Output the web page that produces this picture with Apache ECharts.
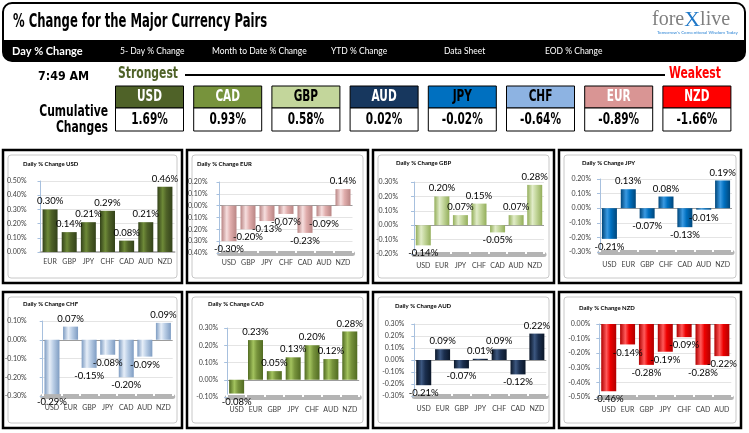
<!DOCTYPE html>
<html><head><meta charset="utf-8">
<script src="https://cdn.jsdelivr.net/npm/echarts@6/dist/echarts.min.js"></script>
<style>html,body{margin:0;padding:0;background:#fff;}#c{width:749px;height:433px;}</style>
</head><body><div id="c"></div>
<script>
// ---------- DATA ----------
const strengthOrder = ['USD','CAD','GBP','AUD','JPY','CHF','EUR','NZD'];
const cumulative = [1.69, 0.93, 0.58, 0.02, -0.02, -0.64, -0.89, -1.66];
const navItems = ['Day % Change','5- Day % Change','Month to Date % Change','YTD % Change','Data Sheet','EOD % Change'];
const timeStamp = '7:49 AM';

const usdCats = ['EUR','GBP','JPY','CHF','CAD','AUD','NZD'];
const usdVals = [0.30, 0.14, 0.21, 0.29, 0.08, 0.21, 0.46];
const usdRange = [0.00, 0.50];

const eurCats = ['USD','GBP','JPY','CHF','CAD','AUD','NZD'];
const eurVals = [-0.30, -0.20, -0.13, -0.07, -0.23, -0.09, 0.14];
const eurRange = [-0.40, 0.20];

const gbpCats = ['USD','EUR','JPY','CHF','CAD','AUD','NZD'];
const gbpVals = [-0.14, 0.20, 0.07, 0.15, -0.05, 0.07, 0.28];
const gbpRange = [-0.20, 0.30];

const jpyCats = ['USD','EUR','GBP','CHF','CAD','AUD','NZD'];
const jpyVals = [-0.21, 0.13, -0.07, 0.08, -0.13, -0.01, 0.19];
const jpyRange = [-0.30, 0.20];

const chfCats = ['USD','EUR','GBP','JPY','CAD','AUD','NZD'];
const chfVals = [-0.29, 0.07, -0.15, -0.08, -0.20, -0.09, 0.09];
const chfRange = [-0.30, 0.10];

const cadCats = ['USD','EUR','GBP','JPY','CHF','AUD','NZD'];
const cadVals = [-0.08, 0.23, 0.05, 0.13, 0.20, 0.12, 0.28];
const cadRange = [-0.10, 0.30];

const audCats = ['USD','EUR','GBP','JPY','CHF','CAD','NZD'];
const audVals = [-0.21, 0.09, -0.07, 0.01, 0.09, -0.12, 0.22];
const audRange = [-0.30, 0.30];

const nzdCats = ['USD','EUR','GBP','JPY','CHF','CAD','AUD'];
const nzdVals = [-0.46, -0.14, -0.28, -0.19, -0.09, -0.28, -0.22];
const nzdRange = [-0.50, 0.00];

// ---------- STYLE / LAYOUT ----------
const panels = [
  {name:'USD', cats:usdCats, vals:usdVals, range:usdRange},
  {name:'EUR', cats:eurCats, vals:eurVals, range:eurRange},
  {name:'GBP', cats:gbpCats, vals:gbpVals, range:gbpRange},
  {name:'JPY', cats:jpyCats, vals:jpyVals, range:jpyRange},
  {name:'CHF', cats:chfCats, vals:chfVals, range:chfRange},
  {name:'CAD', cats:cadCats, vals:cadVals, range:cadRange},
  {name:'AUD', cats:audCats, vals:audVals, range:audRange},
  {name:'NZD', cats:nzdCats, vals:nzdVals, range:nzdRange}
];
const frames = [[3,150,179,133],[187,150,181,133],[373,150,181,133],[559,150,182,133],
                [3,292,179,136],[187,292,181,136],[373,292,181,136],[559,292,182,136]];
const plots = [[40.5,181,134,71,14,6],[219.5,182,133,71,12,3],[414,182,130,72,16,5],[600,179,132,73,9,6],
               [42.7,321,130,75,16,5],[227.2,328,132,69,9,6],[414.3,324,132,72,10,6],[599.3,324,132,73,9,6]];
const titlePos = [[23,164],[197,164],[396,163],[582,163],[23,304],[208,304],[395,306],[579,308]];
const barColors = {
  USD:['#33421a','#6e8a38','#4f6228'],
  EUR:['#b98584','#f6dede','#e0adac'],
  GBP:['#93ae5a','#e1ecc8','#c3d69b'],
  JPY:['#00467a','#3a9ae2','#0070c0'],
  CHF:['#7e9cc2','#e6eef8','#b9cde5'],
  CAD:['#516b22','#a3c35e','#77933c'],
  AUD:['#0b1729','#3c5780','#1b2f4f'],
  NZD:['#b00000','#ff5a5a','#ee0000']
};
const boxStyle = {
  USD:['#4f6228','#fff'], CAD:['#77933c','#fff'], GBP:['#c3d69b','#000'], AUD:['#17375e','#fff'],
  JPY:['#0070c0','#000'], CHF:['#8db3e2','#000'], EUR:['#d99594','#fff'], NZD:['#ff0000','#fff']
};
const NARROW = '"DejaVu Sans Condensed","Liberation Sans Narrow",sans-serif';
const SANS = 'Lato,"Open Sans",sans-serif';

const chart = echarts.init(document.getElementById('c'), null, {renderer:'canvas'});

const grid = [], xAxis = [], yAxis = [], series = [];
const fmt = v => (Math.round(v*100)/100).toFixed(2) + '%';

panels.forEach((p, i) => {
  const pl = plots[i];
  const neg = p.range[0] < 0;
  grid.push({left:pl[0], top:pl[1], width:pl[2], height:pl[3], containLabel:false, outerBoundsMode:'none'});
  xAxis.push({
    type:'category', gridIndex:i, data:p.cats, position:'bottom',
    axisLine:{onZero:false, lineStyle:{color:'#b4b4b4', width:neg ? 5 : 2}},
    axisTick:{show:neg, inside:true, length:2.5, lineStyle:{color:'#ffffff', width:2}},
    axisLabel:{fontSize:7, color:'#404040', fontFamily:SANS, margin:pl[5] + (neg ? 3 : 0), interval:0}
  });
  const ticks = [];
  for (let t = Math.round(p.range[0]*10); t <= Math.round(p.range[1]*10); t++) ticks.push(t/10);
  yAxis.push({
    type:'value', gridIndex:i, min:p.range[0], max:p.range[1], interval:0.1,
    axisLine:{show:true, lineStyle:{color:'#a7c0de', width:1}},
    axisTick:{show:true, length:3, lineStyle:{color:'#a7c0de'}},
    axisLabel:{fontSize:7, color:'#404040', fontFamily:SANS, margin:pl[4], formatter:fmt},
    splitLine:{show:true, lineStyle:{color: ticks.map(t => Math.abs(t) < 1e-9 && neg ? '#9c9c9c' : '#e4e4e4'), width:1}}
  });
  const c = barColors[p.name];
  series.push({
    type:'bar', xAxisIndex:i, yAxisIndex:i, barWidth:15,
    data:p.vals.map(v => ({value:v, label:{position: v >= 0 ? 'top' : 'bottom'}})),
    itemStyle:{color:new echarts.graphic.LinearGradient(0,0,1,0,[
      {offset:0, color:c[0]},{offset:0.35, color:c[1]},{offset:0.6, color:c[2]},{offset:1, color:c[0]}])},
    label:{show:true, fontSize:9.5, fontFamily:SANS, color:'#000', distance:3, formatter:o => fmt(o.value)},
    animation:false
  });
});

// ---------- GRAPHICS ----------
const g = [];
const narrowText = (x, y, text, size, fill, align, sx) => ({
  type:'text', x:x, y:y, scaleX:sx, z:4,
  style:{text:text, font:'bold ' + size + 'px ' + NARROW, fill:fill, align:align || 'left', verticalAlign:'middle'}
});
g.push({type:'rect', shape:{x:3,y:3,width:742,height:58,r:9}, style:{fill:'#fff', stroke:'#000', lineWidth:2}, z:1});
g.push({type:'rect', shape:{x:3,y:40,width:742,height:21,r:[0,0,9,9]}, style:{fill:'#000'}, z:2});
g.push(narrowText(13, 22, '% Change for the Major Currency Pairs', 19, '#000', 'left', 0.68));
const navX = [12,120,212,331,444,545];
navItems.forEach((t, i) => {
  g.push({type:'text', x:navX[i], y:51, style:{text:t, font:(i === 0 ? 'bold 11px ' : '8.5px ') + SANS, fill:'#fff', verticalAlign:'middle'}, z:3});
});
g.push({type:'text', x:652, y:20, style:{text:'{a|fore}{b|X}{a|live}', verticalAlign:'middle',
  rich:{a:{fontFamily:'"Liberation Serif","DejaVu Serif",serif', fontSize:20, fill:'#7f7f7f'},
        b:{fontFamily:'"Liberation Serif","DejaVu Serif",serif', fontSize:22, fill:'#1f78c8'}}}, z:3});
g.push({type:'text', x:657, y:33, style:{text:"Tomorrow's Conventional Wisdom Today", font:'4.5px ' + SANS, fill:'#2f86d6', verticalAlign:'middle'}, z:3});

g.push(narrowText(38, 77, timeStamp, 13, '#000', 'left', 0.95));
g.push(narrowText(118, 74, 'Strongest', 15, '#4f6228', 'left', 0.8));
g.push({type:'line', shape:{x1:185,y1:75,x2:665,y2:75}, style:{stroke:'#000', lineWidth:2}, z:3});
g.push(narrowText(669, 74, 'Weakest', 15, '#ff0000', 'left', 0.8));
g.push(narrowText(108, 112, 'Cumulative', 15, '#000', 'right', 0.8));
g.push(narrowText(108, 128, 'Changes', 15, '#000', 'right', 0.8));
strengthOrder.forEach((cur, i) => {
  const x = 115.5 + i * 78.2, s = boxStyle[cur];
  g.push({type:'rect', shape:{x:x, y:86, width:68, height:22}, style:{fill:s[0], stroke:'#000', lineWidth:1}, z:3});
  g.push({type:'rect', shape:{x:x, y:108, width:68, height:23}, style:{fill:'#fff', stroke:'#000', lineWidth:1}, z:3});
  g.push(narrowText(x + 34, 97.5, cur, 15, s[1], 'center', 0.78));
  g.push(narrowText(x + 34, 120, fmt(cumulative[i]), 15, '#000', 'center', 0.78));
});

frames.forEach((f, i) => {
  g.push({type:'rect', shape:{x:f[0]+5, y:f[1]+5, width:f[2]-10, height:f[3]-10, r:3}, style:{fill:'none', stroke:'#c8c8c8', lineWidth:1}, z:-10});
  g.push({type:'rect', shape:{x:f[0], y:f[1], width:f[2], height:f[3]}, style:{fill:'none', stroke:'#000', lineWidth:2.5}, z:100});
  g.push({type:'text', x:titlePos[i][0], y:titlePos[i][1], style:{text:'Daily % Change ' + panels[i].name, font:'bold 6px ' + SANS, fill:'#000', verticalAlign:'middle'}, z:5});
});
g.push({type:'rect', shape:{x:182.5, y:140, width:3.5, height:293}, style:{fill:'#fff'}, z:99});
g.push({type:'rect', shape:{x:368.5, y:140, width:3.5, height:293}, style:{fill:'#fff'}, z:99});
g.push({type:'rect', shape:{x:554.5, y:140, width:3.5, height:293}, style:{fill:'#fff'}, z:99});

chart.setOption({
  animation:false,
  backgroundColor:'#fff',
  grid:grid, xAxis:xAxis, yAxis:yAxis, series:series,
  graphic:{elements:g}
});
</script>
</body></html>
